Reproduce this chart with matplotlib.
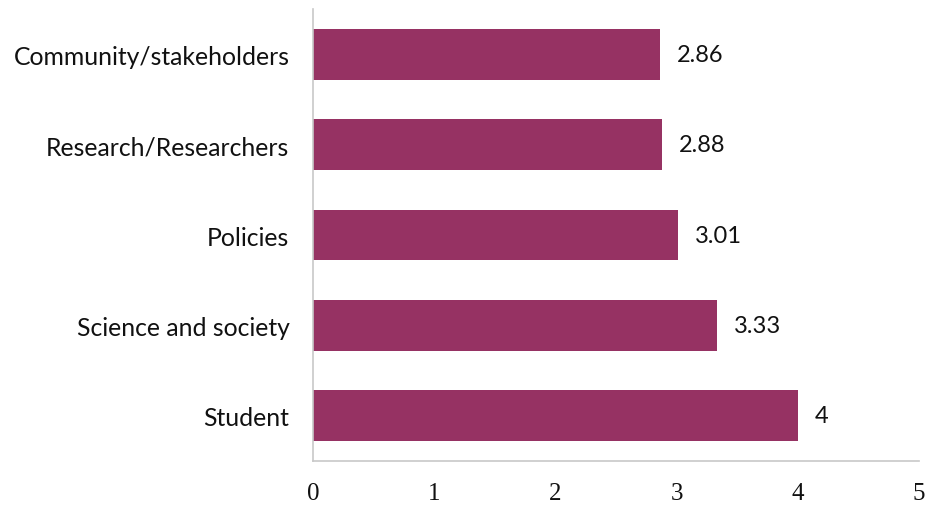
import matplotlib
matplotlib.use("Agg")
import matplotlib.pyplot as plt

categories = ["Student", "Science and society", "Policies",
              "Research/Researchers", "Community/stakeholders"]
values = [4, 3.33, 3.01, 2.88, 2.86]
value_labels = ["4", "3.33", "3.01", "2.88", "2.86"]
xticks = [0, 1, 2, 3, 4, 5]

bar_color = "#963263"
sans = ["Lato", "DejaVu Sans"]

fig = plt.figure(figsize=(9.36, 5.06), dpi=100)
ax = fig.add_axes([0.3344, 0.087, 0.6474, 0.893])

ypos = list(range(len(categories)))
ax.barh(ypos, values, height=0.56, color=bar_color)
for y, v, lab in zip(ypos, values, value_labels):
    ax.text(v + 0.14, y, lab, va="center", ha="left", fontsize=17,
            family=sans, color="#111111")

ax.set_xlim(0, 5)
ax.set_ylim(-0.5, 4.5)
ax.set_xticks(xticks)
ax.set_xticklabels([str(t) for t in xticks], family="Liberation Serif", fontsize=18)
ax.set_yticks(ypos)
ax.set_yticklabels(categories, family=sans, fontsize=17.8)
ax.tick_params(axis="both", length=0, colors="#111111")
ax.tick_params(axis="x", pad=15)
ax.tick_params(axis="y", pad=17)

for s in ["top", "right"]:
    ax.spines[s].set_visible(False)
for s in ["left", "bottom"]:
    ax.spines[s].set_color("#c8c8c8")
    ax.spines[s].set_linewidth(1.2)

fig.savefig("out.png", dpi=100)
